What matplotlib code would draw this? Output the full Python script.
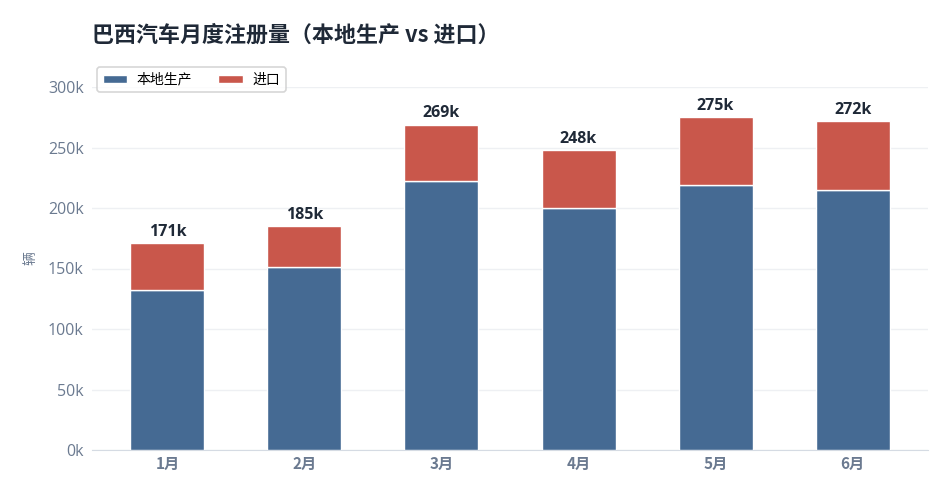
import matplotlib.pyplot as plt
import numpy as np

plt.rcParams['font.family'] = ['Open Sans', 'Noto Sans CJK SC', 'DejaVu Sans']

# monthly registrations (vehicles)
months = ['1月', '2月', '3月', '4月', '5月', '6月']
local = [132000, 151000, 222000, 200000, 219000, 214500]
imported = [39000, 34000, 47000, 48000, 56000, 57500]
totals = [171000, 185000, 269000, 248000, 275000, 272000]

c_local = '#456a93'
c_import = '#c9574b'
c_tick = '#6b7a90'
c_dark = '#1f2937'

fig = plt.figure(figsize=(9.51, 4.96), dpi=100)
ax = fig.add_axes([92 / 951, 1 - 450 / 496, 836 / 951, 363 / 496])

x = np.arange(len(months))
w = 0.54
ax.bar(x, local, w, color=c_local, edgecolor='white', linewidth=1, label='本地生产', zorder=3)
ax.bar(x, imported, w, bottom=local, color=c_import, edgecolor='white', linewidth=1,
       label='进口', zorder=3)

for xi, t in zip(x, totals):
    ax.text(xi, t + 2500, f'{t // 1000}k', ha='center', va='bottom', fontsize=11.5,
            fontweight='bold', color=c_dark, family=['Open Sans', 'DejaVu Sans'])

ax.set_xlim(-0.55, 5.55)
ax.set_ylim(0, 300000)
ax.set_yticks(np.arange(0, 300001, 50000))
ax.set_yticklabels([f'{v // 1000}k' for v in range(0, 300001, 50000)])
ax.set_xticks(x)
ax.set_xticklabels(months, fontweight='bold', family=['Noto Sans CJK SC'])
ax.tick_params(axis='y', length=0, labelsize=11.5, colors=c_tick, pad=6)
ax.tick_params(axis='x', length=0, labelsize=11, colors=c_tick, pad=4)
ax.grid(axis='y', color='#eef0f3', linewidth=1, zorder=0)
for s in ['top', 'right', 'left']:
    ax.spines[s].set_visible(False)
ax.spines['bottom'].set_color('#d5dbe3')

fig.text(30 / 951, 1 - 258 / 496, '辆', rotation=90, ha='center', va='center',
         fontsize=10, color=c_tick, family=['Noto Sans CJK SC'])

fig.text(92 / 951, 1 - 35 / 496, '巴西汽车月度注册量（本地生产 vs 进口）', ha='left', va='center',
         fontsize=15.8, fontweight='bold', color=c_dark,
         family=['Noto Sans CJK SC', 'DejaVu Sans'])

leg = fig.legend(loc='upper left', bbox_to_anchor=(97 / 951, 1 - 67 / 496), ncol=2,
                 frameon=True, fancybox=True, edgecolor='#cccccc', borderaxespad=0,
                 handlelength=1.75, handleheight=0.5, handletextpad=0.7, columnspacing=1.9,
                 borderpad=0.4, prop={'family': ['Noto Sans CJK SC'], 'size': 10})
leg.get_frame().set_linewidth(1.2)

fig.savefig('out.png', dpi=100)
